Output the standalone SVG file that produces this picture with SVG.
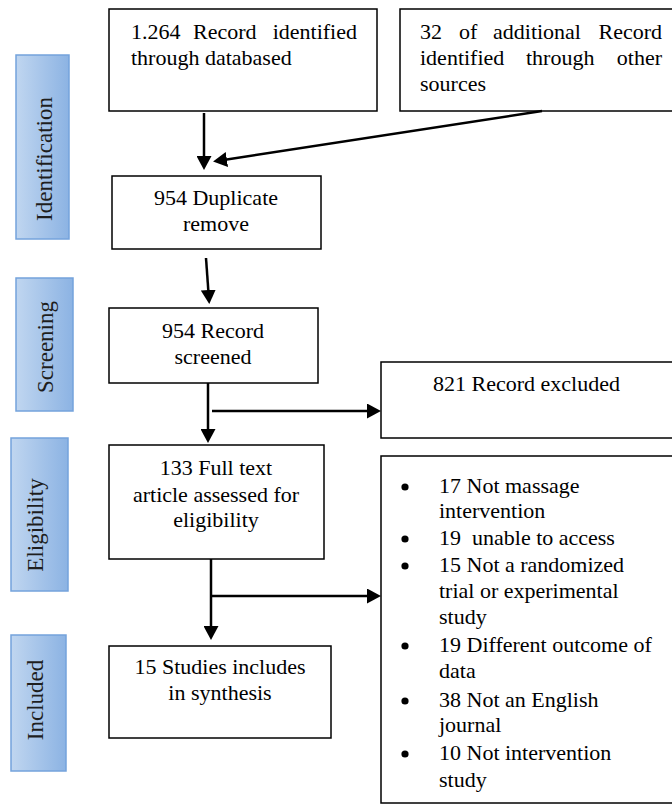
<svg xmlns="http://www.w3.org/2000/svg" width="672" height="810" viewBox="0 0 672 810">
  <style>
    .box { fill: #ffffff; stroke: #000000; stroke-width: 1.5; }
    .stage { fill: url(#stageFill); stroke: #74a3dc; stroke-width: 1.5; }
    .t { font-family: "Liberation Serif", "Times New Roman", serif; font-size: 22px; fill: #000000; }
    .c { text-anchor: middle; }
    .e { text-anchor: end; }
    .dot { fill: #000000; }
    .lab { font-family: "Liberation Serif", "Times New Roman", serif; font-size: 23px; fill: #1e1e1e; text-anchor: middle; }
    .arr { fill: none; stroke: #000000; stroke-width: 2.5; marker-end: url(#head); }
  </style>
  <defs>
    <linearGradient id="stageFill" x1="0" y1="0" x2="1" y2="0">
      <stop offset="0" stop-color="#c0d6f0"/>
      <stop offset="1" stop-color="#8cb3e3"/>
    </linearGradient>
    <marker id="head" markerUnits="userSpaceOnUse" markerWidth="14" markerHeight="15" refX="10" refY="7.5" orient="auto">
      <path d="M0,0 L14,7.5 L0,15 z" fill="#000000"/>
    </marker>
  </defs>

  <rect width="672" height="810" fill="#ffffff"/>

  <!-- stage labels -->
  <g id="stage-identification">
    <rect class="stage" x="16" y="55" width="53" height="184"/>
    <text class="lab" transform="translate(52,159) rotate(-90)">Identification</text>
  </g>
  <g id="stage-screening">
    <rect class="stage" x="16" y="278" width="57" height="133"/>
    <text class="lab" transform="translate(53,347) rotate(-90)">Screening</text>
  </g>
  <g id="stage-eligibility">
    <rect class="stage" x="11" y="438" width="57" height="153"/>
    <text class="lab" transform="translate(43,525) rotate(-90)">Eligibility</text>
  </g>
  <g id="stage-included">
    <rect class="stage" x="11" y="635" width="55" height="136"/>
    <text class="lab" transform="translate(43,700) rotate(-90)">Included</text>
  </g>

  <!-- flow boxes -->
  <g id="records-databases">
    <rect class="box" x="109" y="9" width="268" height="102"/>
    <text class="t" x="131" y="39">1.264</text>
    <text class="t" x="193" y="39">Record</text>
    <text class="t e" x="357" y="39">identified</text>
    <text class="t" x="131" y="65">through databased</text>
  </g>
  <g id="records-other">
    <rect class="box" x="400" y="9" width="284" height="102"/>
    <text class="t" x="420" y="39">32</text>
    <text class="t" x="459" y="39">of</text>
    <text class="t" x="493" y="39">additional</text>
    <text class="t e" x="662" y="39">Record</text>
    <text class="t" x="420" y="65">identified</text>
    <text class="t" x="526" y="65">through</text>
    <text class="t e" x="662" y="65">other</text>
    <text class="t" x="420" y="91">sources</text>
  </g>
  <g id="duplicates">
    <rect class="box" x="112" y="176" width="209" height="73"/>
    <text class="t c" x="216" y="205">954 Duplicate</text>
    <text class="t c" x="216" y="231">remove</text>
  </g>
  <g id="screened">
    <rect class="box" x="109" y="308" width="209" height="75"/>
    <text class="t c" x="213" y="338">954 Record</text>
    <text class="t c" x="213" y="364">screened</text>
  </g>
  <g id="excluded">
    <rect class="box" x="381" y="362" width="305" height="76"/>
    <text class="t" x="433" y="391">821 Record excluded</text>
  </g>
  <g id="full-text">
    <rect class="box" x="109" y="445" width="215" height="114"/>
    <text class="t c" x="216" y="475">133 Full text</text>
    <text class="t c" x="216" y="502">article assessed for</text>
    <text class="t c" x="216" y="527">eligibility</text>
  </g>
  <g id="reasons">
    <rect class="box" x="381" y="456" width="305" height="347"/>
    <circle class="dot" cx="405" cy="487" r="3.6"/>
    <text class="t" x="439" y="493">17 Not massage</text>
    <text class="t" x="439" y="518">intervention</text>
    <circle class="dot" cx="405" cy="539" r="3.6"/>
    <text class="t" x="439" y="545" xml:space="preserve">19  unable to access</text>
    <circle class="dot" cx="405" cy="566" r="3.6"/>
    <text class="t" x="439" y="572">15 Not a randomized</text>
    <text class="t" x="439" y="598">trial or experimental</text>
    <text class="t" x="439" y="624">study</text>
    <circle class="dot" cx="405" cy="646" r="3.6"/>
    <text class="t" x="439" y="652">19 Different outcome of</text>
    <text class="t" x="439" y="678">data</text>
    <circle class="dot" cx="405" cy="701" r="3.6"/>
    <text class="t" x="439" y="707">38 Not an English</text>
    <text class="t" x="439" y="732">journal</text>
    <circle class="dot" cx="405" cy="754" r="3.6"/>
    <text class="t" x="439" y="760">10 Not intervention</text>
    <text class="t" x="439" y="787">study</text>
  </g>
  <g id="included-studies">
    <rect class="box" x="109" y="646" width="222" height="92"/>
    <text class="t c" x="220" y="674">15 Studies includes</text>
    <text class="t c" x="220" y="700">in synthesis</text>
  </g>

  <!-- connectors -->
  <g id="connectors">
    <path class="arr" d="M204,113 V166"/>
    <path class="arr" d="M542,111 L217,161"/>
    <path class="arr" d="M206,258 L209,300"/>
    <path class="arr" d="M208,383 V439"/>
    <path class="arr" d="M212,411 H377"/>
    <path class="arr" d="M211,559 V636"/>
    <path class="arr" d="M211,596 H377"/>
  </g>
</svg>
